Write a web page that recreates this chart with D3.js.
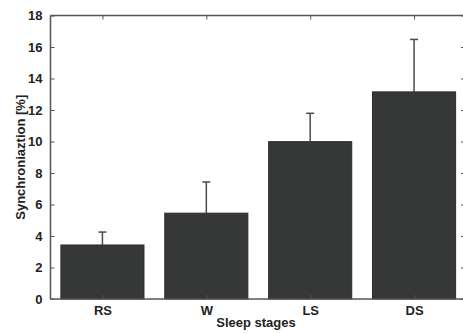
<!DOCTYPE html>
<html>
<head>
<meta charset="utf-8">
<script src="https://cdn.jsdelivr.net/npm/d3@7"></script>
<style>
  body { margin: 0; background: #fff; }
  text { font-family: "Liberation Sans", Arial, sans-serif; font-weight: bold; fill: #222; }
</style>
</head>
<body>
<svg id="chart" width="463" height="333"></svg>
<script>
// data
const stages = ["RS", "W", "LS", "DS"];
const means = [3.43, 5.45, 9.99, 13.15];
const errors = [0.82, 1.98, 1.8, 3.33];
const yTicks = [0, 2, 4, 6, 8, 10, 12, 14, 16, 18];

const svg = d3.select("#chart");
const margin = { left: 50.5, top: 15.5, right: -3, bottom: 34 };
const W = 463, H = 333;
const x0 = margin.left, x1 = W - margin.right;
const y0 = H - margin.bottom, y1 = margin.top;

// linear x like matlab bar: xlim [0.5, 4.5]
const x = d3.scaleLinear().domain([0.5, 4.5]).range([x0, x1]);
const y = d3.scaleLinear().domain([0, 18]).range([y0, y1]);
const barW = x(1.8) - x(1);
const axisColor = "#555";

// bars
svg.append("g").selectAll("rect")
  .data(means)
  .join("rect")
  .attr("x", (d, i) => x(i + 1) - barW / 2)
  .attr("y", d => y(d))
  .attr("width", barW)
  .attr("height", d => y(0) - y(d))
  .attr("fill", "#353836")
  .attr("stroke", "#2a2c2b")
  .attr("stroke-width", 1);

// error bars (upper only)
const eb = svg.append("g").attr("stroke", "#4a4a4a").attr("stroke-width", 1.5);
means.forEach((m, i) => {
  const cx = x(i + 1);
  eb.append("line").attr("x1", cx).attr("x2", cx).attr("y1", y(m)).attr("y2", y(m + errors[i]));
  eb.append("line").attr("x1", cx - 4).attr("x2", cx + 4).attr("y1", y(m + errors[i])).attr("y2", y(m + errors[i]));
});

// box
const box = svg.append("g").attr("stroke", axisColor).attr("stroke-width", 1.5).attr("fill", "none");
box.append("line").attr("x1", x0).attr("x2", x1).attr("y1", y0).attr("y2", y0);
box.append("line").attr("x1", x0).attr("x2", x1).attr("y1", y1).attr("y2", y1);
box.append("line").attr("x1", x0).attr("x2", x0).attr("y1", y0).attr("y2", y1);
box.append("line").attr("x1", x1).attr("x2", x1).attr("y1", y0).attr("y2", y1);

// left axis
const yAxis = svg.append("g")
  .attr("transform", `translate(${x0},0)`)
  .call(d3.axisLeft(y).tickValues(yTicks).tickSize(-4).tickPadding(8));
yAxis.select(".domain").remove();
yAxis.selectAll("line").attr("stroke", axisColor);
yAxis.selectAll("text").attr("font-size", 13).style("font-family", "Liberation Sans, Arial, sans-serif").style("font-weight", "bold").attr("fill", "#222");

// right axis ticks (mirrored)
const yAxisR = svg.append("g")
  .attr("transform", `translate(${x1},0)`)
  .call(d3.axisRight(y).tickValues(yTicks).tickSize(-5).tickFormat(""));
yAxisR.select(".domain").remove();
yAxisR.selectAll("line").attr("stroke", axisColor);

// bottom axis
const xAxis = svg.append("g")
  .attr("transform", `translate(0,${y0})`)
  .call(d3.axisBottom(x).tickValues([1, 2, 3, 4]).tickSize(-4).tickPadding(7)
    .tickFormat((d) => stages[d - 1]));
xAxis.select(".domain").remove();
xAxis.selectAll("line").attr("stroke", axisColor);
xAxis.selectAll("text").attr("font-size", 13).style("font-family", "Liberation Sans, Arial, sans-serif").style("font-weight", "bold").attr("fill", "#222");

// top ticks
const xAxisT = svg.append("g")
  .attr("transform", `translate(0,${y1})`)
  .call(d3.axisTop(x).tickValues([1, 2, 3, 4]).tickSize(-4).tickFormat(""));
xAxisT.select(".domain").remove();
xAxisT.selectAll("line").attr("stroke", axisColor);

// axis titles
svg.append("text")
  .attr("x", 256)
  .attr("y", 327)
  .attr("text-anchor", "middle")
  .attr("font-size", 13)
  .text("Sleep stages");

svg.append("text")
  .attr("transform", `translate(20,${(y0 + y1) / 2}) rotate(-90)`)
  .attr("text-anchor", "middle")
  .attr("dy", "0.35em")
  .attr("font-size", 13)
  .text("Synchroniaztion [%]");
</script>
</body>
</html>
